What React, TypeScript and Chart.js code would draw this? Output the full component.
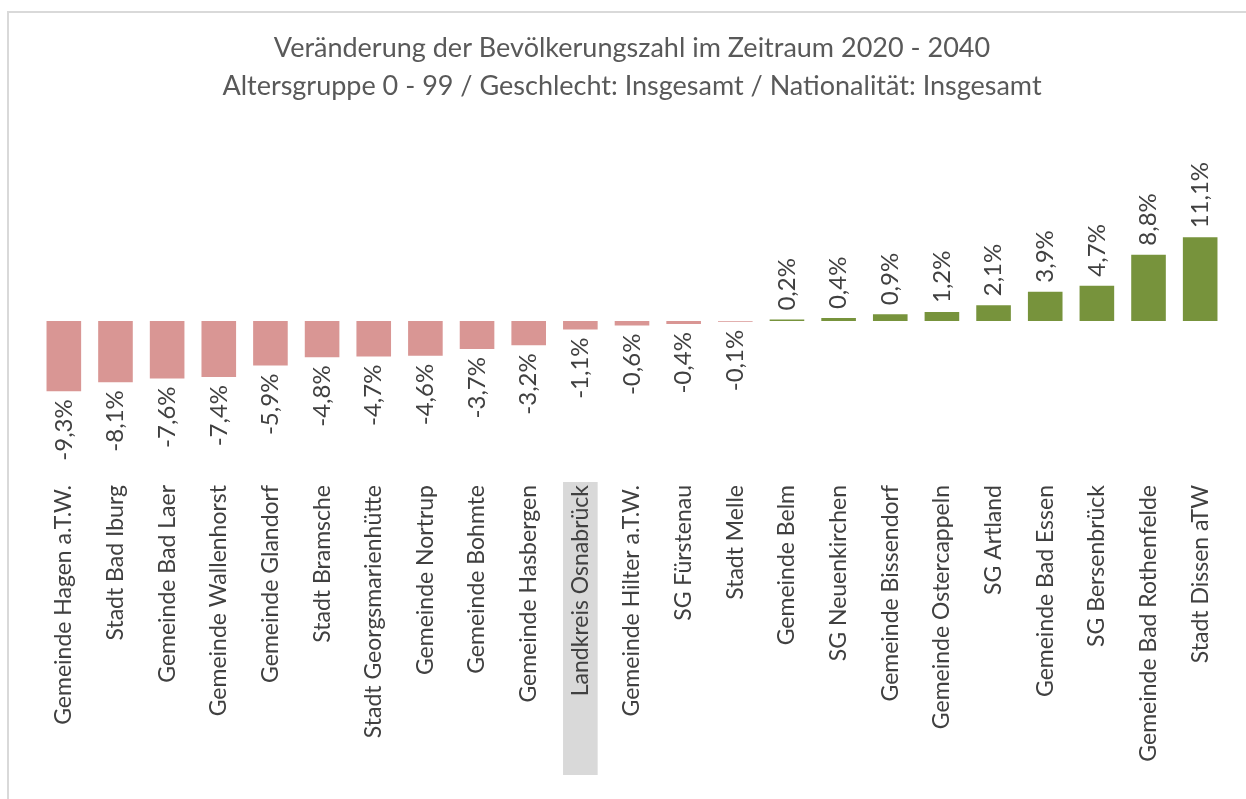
import React, { useEffect, useRef } from "react";
import { Chart, registerables } from "chart.js";

Chart.register(...registerables);

const titleLines = [
  "Veränderung der Bevölkerungszahl im Zeitraum 2020 - 2040",
  "Altersgruppe 0 - 99 / Geschlecht: Insgesamt / Nationalität: Insgesamt",
];

const categories = [
  "Gemeinde Hagen a.T.W.",
  "Stadt Bad Iburg",
  "Gemeinde Bad Laer",
  "Gemeinde Wallenhorst",
  "Gemeinde Glandorf",
  "Stadt Bramsche",
  "Stadt Georgsmarienhütte",
  "Gemeinde Nortrup",
  "Gemeinde Bohmte",
  "Gemeinde Hasbergen",
  "Landkreis Osnabrück",
  "Gemeinde Hilter a.T.W.",
  "SG Fürstenau",
  "Stadt Melle",
  "Gemeinde Belm",
  "SG Neuenkirchen",
  "Gemeinde Bissendorf",
  "Gemeinde Ostercappeln",
  "SG Artland",
  "Gemeinde Bad Essen",
  "SG Bersenbrück",
  "Gemeinde Bad Rothenfelde",
  "Stadt Dissen aTW",
];

const changePercent = [
  -9.3, -8.1, -7.6, -7.4, -5.9, -4.8, -4.7, -4.6, -3.7, -3.2, -1.1, -0.6, -0.4,
  -0.1, 0.2, 0.4, 0.9, 1.2, 2.1, 3.9, 4.7, 8.8, 11.1,
];

const highlightCategory = "Landkreis Osnabrück";

const NEG_COLOR = "#d99694";
const POS_COLOR = "#77933c";
const TEXT_COLOR = "#404040";
const FONT = "Lato, 'Open Sans', sans-serif";

const fmt = (v: number) => v.toFixed(1).replace(".", ",") + "%";

const highlightPlugin = {
  id: "highlightBox",
  beforeDraw(chart: any) {
    const idx = categories.indexOf(highlightCategory);
    const meta = chart.getDatasetMeta(0);
    const el = meta.data[idx];
    if (!el) return;
    const { ctx } = chart;
    const w = el.width;
    const top = chart.chartArea.bottom + 10;
    ctx.save();
    ctx.fillStyle = "#d9d9d9";
    ctx.fillRect(el.x - w / 2, top, w, 293);
    ctx.restore();
  },
};

const valueLabelPlugin = {
  id: "valueLabels",
  afterDatasetsDraw(chart: any) {
    const { ctx } = chart;
    const meta = chart.getDatasetMeta(0);
    ctx.save();
    ctx.fillStyle = TEXT_COLOR;
    ctx.font = `24px ${FONT}`;
    ctx.textBaseline = "middle";
    meta.data.forEach((el: any, i: number) => {
      const v = changePercent[i];
      ctx.save();
      if (v >= 0) {
        ctx.translate(el.x, el.y - 9);
        ctx.rotate(-Math.PI / 2);
        ctx.textAlign = "left";
      } else {
        ctx.translate(el.x, el.y + 8);
        ctx.rotate(-Math.PI / 2);
        ctx.textAlign = "right";
      }
      ctx.fillText(fmt(v), 0, 0);
      ctx.restore();
    });
    ctx.restore();
  },
};

export default function App() {
  const ref = useRef<HTMLCanvasElement | null>(null);

  useEffect(() => {
    if (!ref.current) return;
    const chart = new Chart(ref.current, {
      type: "bar",
      data: {
        labels: categories,
        datasets: [
          {
            data: changePercent,
            backgroundColor: changePercent.map((v) => (v < 0 ? NEG_COLOR : POS_COLOR)),
            categoryPercentage: 1,
            barPercentage: 0.67,
          },
        ],
      },
      options: {
        animation: false,
        responsive: false,
        maintainAspectRatio: false,
        layout: { padding: { left: 38, right: 20, top: 0, bottom: 0 } },
        plugins: {
          legend: { display: false },
          tooltip: { enabled: false },
          title: {
            display: true,
            text: titleLines,
            color: "#595959",
            font: { family: FONT, size: 27, weight: "normal", lineHeight: 38 / 27 },
            padding: { top: 29, bottom: 35 },
          },
        },
        scales: {
          x: {
            grid: { display: false, drawTicks: false },
            border: { display: false },
            ticks: {
              minRotation: 90,
              maxRotation: 90,
              autoSkip: false,
              padding: 13,
              color: TEXT_COLOR,
              font: { family: FONT, size: 23 },
            },
            afterFit: (scale: any) => {
              scale.height = 327;
            },
          },
          y: {
            display: false,
            min: -20,
            max: 24,
          },
        },
      },
      plugins: [highlightPlugin, valueLabelPlugin],
    });
    return () => chart.destroy();
  }, []);

  return (
    <div style={{ position: "absolute", left: 0, top: 0, width: 1246, height: 799, background: "#fff", overflow: "hidden" }}>
      <div
        style={{
          position: "absolute",
          left: 7,
          top: 11,
          width: 1300,
          height: 850,
          borderLeft: "2px solid #d9d9d9",
          borderTop: "2px solid #d9d9d9",
        }}
      />
      <canvas ref={ref} width={1246} height={799} style={{ position: "absolute", left: 0, top: 0 }} />
    </div>
  );
}
